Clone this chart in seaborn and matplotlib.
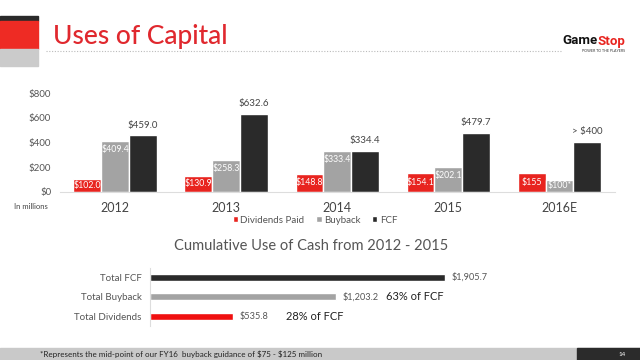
import matplotlib
matplotlib.use("Agg")
import matplotlib.pyplot as plt
from matplotlib.patches import Rectangle
from matplotlib.lines import Line2D
import seaborn as sns
import pandas as pd

# ---------------- data ----------------
years = ["2012", "2013", "2014", "2015", "2016E"]
dividends = [102.0, 130.9, 148.8, 154.1, 155.0]
buyback = [409.4, 258.3, 333.4, 202.1, 100.0]
fcf = [459.0, 632.6, 334.4, 479.7, 405.0]
div_labels = ["$102.0", "$130.9", "$148.8", "$154.1", "$155"]
buy_labels = ["$409.4", "$258.3", "$333.4", "$202.1", "$100*"]
fcf_labels = ["$459.0", "$632.6", "$334.4", "$479.7", "> $400"]
series = ["Dividends Paid", "Buyback", "FCF"]
y_ticks = [0, 200, 400, 600, 800]
y_tick_labels = ["$0", "$200", "$400", "$600", "$800"]

cum_cats = ["Total FCF", "Total Buyback", "Total Dividends"]
cum_vals = [1905.7, 1203.2, 535.8]
cum_labels = ["$1,905.7", "$1,203.2", "$535.8"]
cum_pcts = ["", "63% of FCF", "28% of FCF"]

RED = "#e8241f"
GRAY = "#a3a3a3"
BLACK = "#2a2a2a"
TXT = "#555555"

sns.set_theme(style="white")
plt.rcParams["font.family"] = ["Lato", "DejaVu Sans"]

W, H = 640, 360
fig = plt.figure(figsize=(6.4, 3.6), dpi=100)
fig.patch.set_facecolor("white")

def fx(px):
    return px / W

def fy(py):
    return 1 - py / H

# ---------------- header decorations ----------------
fig.add_artist(Rectangle((fx(0), fy(21)), fx(38), 5 / H, color=BLACK, transform=fig.transFigure))
fig.add_artist(Rectangle((fx(0), fy(49)), fx(38), 28 / H, color="#ee2b24", transform=fig.transFigure))
fig.add_artist(Rectangle((fx(0), fy(66)), fx(38), 17 / H, color="#cbcbcb", transform=fig.transFigure))
fig.text(fx(53), fy(44), "Uses of Capital", fontsize=19, color="#e0282e",
         va="baseline", ha="left", fontweight="medium", parse_math=False)
fig.add_artist(Line2D([fx(46), fx(562)], [fy(51), fy(51)], color="#bbbbbb", lw=0.8,
                      linestyle=(0, (1, 1.5)), transform=fig.transFigure))
fig.text(fx(598), fy(41), "Game", fontsize=9.5, fontweight="bold", color="#111111",
         ha="right", va="center", family=["Roboto", "DejaVu Sans"])
fig.text(fx(598), fy(41), "Stop", fontsize=9.5, fontweight="bold", color=RED,
         ha="left", va="center", family=["Roboto", "DejaVu Sans"])
fig.text(fx(604), fy(51), "POWER TO THE PLAYERS", fontsize=2.6, color="#333333",
         ha="center", va="center")

# ---------------- top grouped bar chart ----------------
df = pd.DataFrame({
    "year": years * 3,
    "value": dividends + buyback + fcf,
    "series": [series[0]] * 5 + [series[1]] * 5 + [series[2]] * 5,
})
ax = fig.add_axes([fx(59.5), fy(192), fx(615) - fx(59.5), (192 - 93) / H])
sns.barplot(data=df, x="year", y="value", hue="series", order=years, hue_order=series,
            palette=[RED, GRAY, BLACK], width=0.75, gap=0, saturation=1, ax=ax,
            errorbar=None)
handles, labels = ax.get_legend_handles_labels()
if ax.get_legend() is not None:
    ax.get_legend().remove()
ax.set_ylim(0, 800)
ax.set_xlim(-0.5, 4.5)
ax.set_yticks(y_ticks)
ax.set_yticklabels(y_tick_labels)
ax.set_xlabel("")
ax.set_ylabel("")
ax.tick_params(axis="y", labelsize=7, labelcolor=TXT, length=0, pad=6)
ax.tick_params(axis="x", labelsize=9, labelcolor="#444444", length=0, pad=7)
for s in ["top", "right", "left"]:
    ax.spines[s].set_visible(False)
ax.spines["bottom"].set_color("#dddddd")
ax.spines["bottom"].set_linewidth(0.8)
ax.patch.set_alpha(0)

conts = ax.containers
for bar, lab in zip(conts[0], div_labels):
    x = bar.get_x() + bar.get_width() / 2
    h = bar.get_height()
    ax.text(x, h / 2, lab, ha="center", va="center", fontsize=6.3, color="white",
            parse_math=False)
for bar, lab in zip(conts[1], buy_labels):
    x = bar.get_x() + bar.get_width() / 2
    h = bar.get_height()
    ypos = max(h / 2, h - 68)
    ax.text(x, ypos, lab, ha="center", va="center", fontsize=6.3, color="white",
            parse_math=False)
for bar, lab in zip(conts[2], fcf_labels):
    x = bar.get_x() + bar.get_width() / 2
    h = bar.get_height()
    ax.annotate(lab, (x, h), xytext=(0, 4), textcoords="offset points",
                ha="center", va="bottom", fontsize=7, color="#444444")

fig.text(fx(14), fy(207), "In millions", fontsize=5.5, color="#444444", ha="left", va="center")

fig.legend(handles, labels, loc="center", bbox_to_anchor=(fx(315), fy(220)), ncol=3,
           frameon=False, fontsize=7, handlelength=0.55, handleheight=0.55,
           handletextpad=0.25, columnspacing=1.2, labelcolor=TXT)

# ---------------- bottom cumulative chart ----------------
fig.text(fx(311), fy(246), "Cumulative Use of Cash from 2012 - 2015", fontsize=10.5,
         color="#555555", ha="center", va="center")
cdf = pd.DataFrame({"cat": cum_cats, "val": cum_vals})
ax2 = fig.add_axes([fx(150), fy(326), 310 / W, 58.5 / H])
sns.barplot(data=cdf, y="cat", x="val", hue="cat", order=cum_cats, hue_order=cum_cats,
            palette=[BLACK, GRAY, "#f01010"], width=0.36, saturation=1, legend=False,
            ax=ax2, errorbar=None)
ax2.set_xlim(0, 2000)
ax2.set_ylim(2.5, -0.5)
ax2.set_xlabel("")
ax2.set_ylabel("")
ax2.set_xticks([])
ax2.tick_params(axis="y", labelsize=7, labelcolor=TXT, length=0, pad=6)
for s in ["top", "right", "bottom"]:
    ax2.spines[s].set_visible(False)
ax2.spines["left"].set_color("#dddddd")
ax2.spines["left"].set_linewidth(0.8)
ax2.patch.set_alpha(0)
bars2 = [p for c in ax2.containers for p in c]
bars2.sort(key=lambda p: p.get_y())
for bar, lab, pct in zip(bars2, cum_labels, cum_pcts):
    yc = bar.get_y() + bar.get_height() / 2
    w = bar.get_width()
    ax2.annotate(lab, (w, yc), xytext=(4.5, 0), textcoords="offset points",
                 ha="left", va="center", fontsize=6.6, color=TXT)
    if pct:
        off = 36 if len(lab) > 6 else 38
        ax2.annotate(pct, (w, yc), xytext=(off, 0), textcoords="offset points",
                     ha="left", va="center", fontsize=8, color="#222222")

# ---------------- footer ----------------
fig.add_artist(Rectangle((0, 0), 1, 12 / H, color="#c9c9c9", transform=fig.transFigure))
fig.add_artist(Rectangle((fx(577), 0), 1 - fx(577), 12 / H, color="#2b2b2b",
                         transform=fig.transFigure))
fig.text(fx(40), fy(354), "*Represents the mid-point of our FY16  buyback guidance of $75 - $125 million",
         fontsize=5.8, color="#222222", ha="left", va="center", parse_math=False)
fig.text(fx(622), fy(354), "14", fontsize=4.5, color="white", ha="center", va="center")

fig.savefig("out.png", dpi=100, facecolor="white")
